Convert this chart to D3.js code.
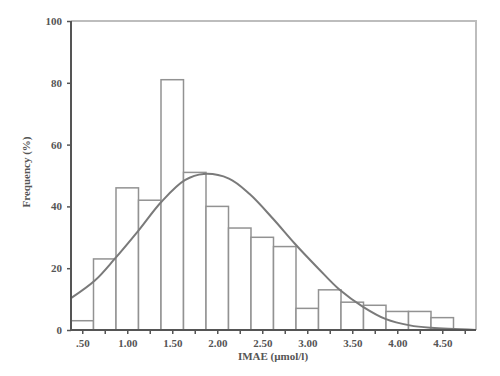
<!DOCTYPE html>
<html>
<head>
<meta charset="utf-8">
<script src="https://cdn.jsdelivr.net/npm/d3@7"></script>
<style>
  body { margin: 0; background: #fff; }
  text { font-family: "Liberation Serif", "DejaVu Serif", serif; }
</style>
</head>
<body>
<div id="chart"></div>
<script>
// histogram bins (centre of each 0.25 wide bin) and their frequency in %
let binCenters = [0.5, 0.75, 1.0, 1.25, 1.5, 1.75, 2.0, 2.25, 2.5, 2.75, 3.0, 3.25, 3.5, 3.75, 4.0, 4.25, 4.5];
let binValues = [3, 23, 46, 42, 81, 51, 40, 33, 30, 27, 7, 13, 9, 8, 6, 6, 4];
// fitted normal curve
let curveX = [0.375, 0.64, 0.86, 1.12, 1.38, 1.64, 1.85, 2.13, 2.36, 2.62, 2.86, 3.12, 3.36, 3.62, 3.875, 4.14, 4.375, 4.875];
let curveY = [10.3, 16, 23, 32, 41.5, 48.5, 50.5, 49, 44, 36, 28, 20, 13, 7.5, 3.5, 1.5, 0.7, 0];
let xTicks = [0.5, 1.0, 1.5, 2.0, 2.5, 3.0, 3.5, 4.0, 4.5];
let yTicks = [0, 20, 40, 60, 80, 100];
let binWidth = 0.25;

function draw() {
  let width = 500, height = 376;
  let svg = d3.select("#chart").append("svg")
    .attr("width", width)
    .attr("height", height);

  let x = d3.scaleLinear().domain([0.375, 4.875]).range([71, 476]);
  let y = d3.scaleLinear().domain([0, 100]).range([330, 21]);

  // frame: light top and right borders
  svg.append("path")
    .attr("d", "M" + x.range()[0] + "," + y(100) + "H" + x.range()[1] + "V" + y(0))
    .attr("fill", "none")
    .attr("stroke", "#bdbdbd")
    .attr("stroke-width", 2);

  // bars
  let bins = binCenters.map((c, i) => ({c: c, v: binValues[i]}));
  svg.selectAll(".bar")
    .data(bins)
    .enter().append("rect")
    .attr("class", "bar")
    .attr("x", (d) => x(d.c - binWidth / 2))
    .attr("y", (d) => y(d.v))
    .attr("width", (d) => x(d.c + binWidth / 2) - x(d.c - binWidth / 2))
    .attr("height", (d) => y(0) - y(d.v))
    .attr("fill", "#fff")
    .attr("stroke", "#929292")
    .attr("stroke-width", 1.5);

  // normal curve
  let line = d3.line()
    .x((d) => x(d[0]))
    .y((d) => y(d[1]))
    .curve(d3.curveCatmullRom.alpha(0.5));
  svg.append("path")
    .datum(curveX.map((v, i) => [v, curveY[i]]))
    .attr("d", line)
    .attr("fill", "none")
    .attr("stroke", "#7a7a7a")
    .attr("stroke-width", 2);

  // x axis: tick every 0.25, labels every 0.5
  let fmt = (d) => {
    let s = d3.format(".2f")(d);
    return d < 1 ? s.replace(/^0/, "") : s;
  };
  let minor = d3.range(0.5, 4.76, 0.25);
  let xAxis = svg.append("g")
    .attr("transform", "translate(0," + y(0) + ")")
    .call(d3.axisBottom(x).tickValues(minor).tickSize(4)
      .tickFormat((d) => xTicks.some((t) => Math.abs(t - d) < 1e-6) ? fmt(d) : ""));
  xAxis.select(".domain").attr("stroke", "#555").attr("stroke-width", 2)
    .attr("d", "M" + x.range()[0] + ",0H" + x.range()[1]);
  xAxis.selectAll(".tick line").attr("stroke", "#555").attr("stroke-width", 1.5);
  xAxis.selectAll(".tick text")
    .attr("fill", "#555")
    .attr("font-size", 11)
    .attr("font-weight", "bold")
    .attr("dy", "0.9em");

  // y axis
  let yAxis = svg.append("g")
    .attr("transform", "translate(" + x.range()[0] + ",0)")
    .call(d3.axisLeft(y).tickValues(yTicks).tickSize(4).tickPadding(5));
  yAxis.select(".domain").attr("stroke", "#555").attr("stroke-width", 2)
    .attr("d", "M0," + y(0) + "V" + y(100));
  yAxis.selectAll(".tick line").attr("stroke", "#555").attr("stroke-width", 1.5);
  yAxis.selectAll(".tick text")
    .attr("fill", "#555")
    .attr("font-size", 11)
    .attr("font-weight", "bold");

  // axis titles
  svg.append("text")
    .attr("x", 273)
    .attr("y", 360)
    .attr("text-anchor", "middle")
    .attr("font-size", 11)
    .attr("font-weight", "bold")
    .attr("fill", "#555")
    .text("IMAE (µmol/l)");
  svg.append("text")
    .attr("transform", "translate(30,172) rotate(-90)")
    .attr("text-anchor", "middle")
    .attr("font-size", 11)
    .attr("font-weight", "bold")
    .attr("fill", "#555")
    .text("Frequency (%)");
}
draw();
</script>
</body>
</html>
